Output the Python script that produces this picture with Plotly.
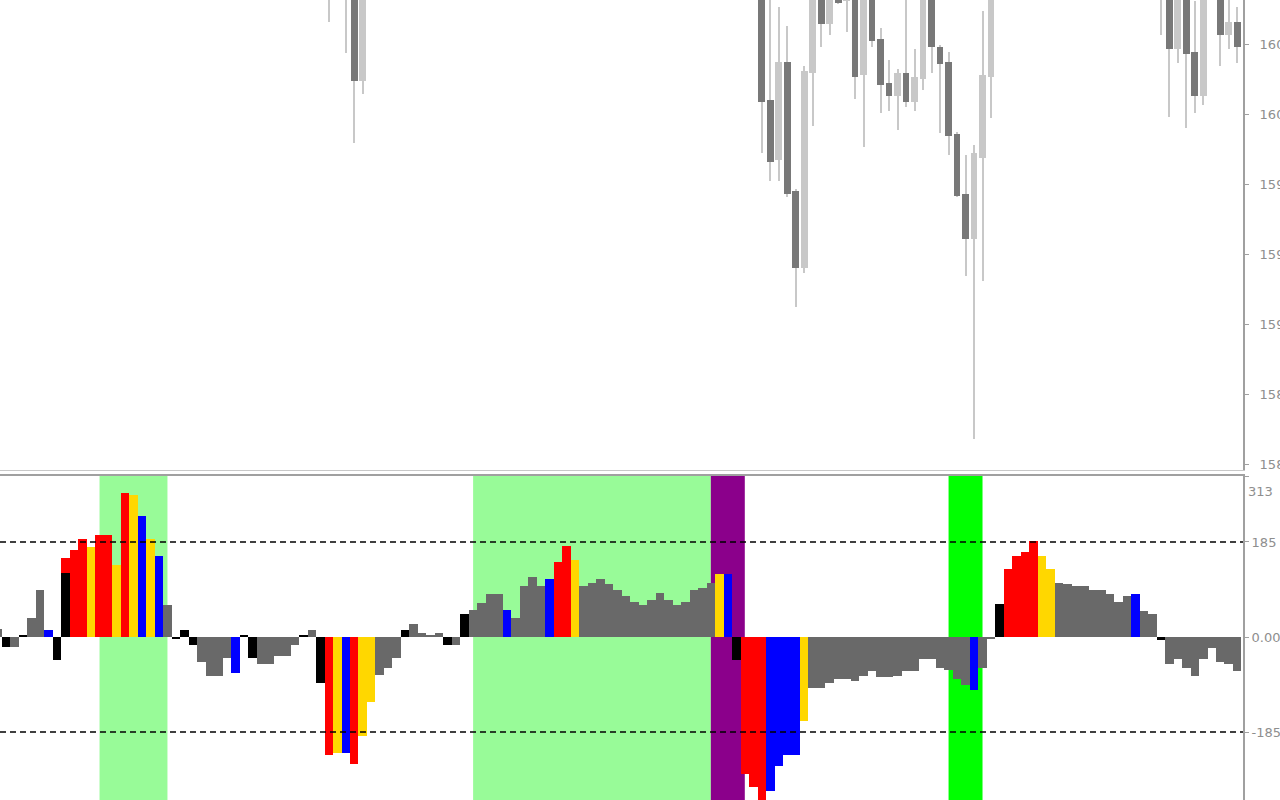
import plotly.graph_objects as go

# ---------------- data ----------------
# bar index (one step per bar; -1 is the partly visible bar at the left edge)
bar_index = list(range(-1, 146))

# oscillator histogram values (k = -1 .. 145)
hist_values = [
    16, -19, -19, 3, 37, 91, 13, -45, 125, 169,
    190, 176, 198, 198, 140, 280, 277, 235, 191, 157,
    62, -3, 13, -16, -49, -75, -75, -41, -70, 3,
    -41, -53, -53, -37, -37, -16, 3, 13, -90, -230,
    -226, -226, -247, -193, -127, -74, -60, -41, 13, 25,
    8, 3, 8, -15, -15, 45, 53, 66, 83, 83,
    53, 37, 99, 116, 99, 112, 146, 177, 149, 99,
    106, 112, 103, 91, 79, 69, 62, 73, 86, 73,
    62, 69, 91, 95, 106, 123, 123, -44, -266, -292,
    -330, -300, -251, -230, -230, -164, -99, -99, -90, -82,
    -82, -86, -75, -67, -78, -78, -75, -67, -67, -42,
    -42, -60, -65, -82, -93, -104, -60, -2, 65, 132,
    157, 165, 186, 157, 132, 106, 103, 99, 99, 91,
    91, 83, 69, 79, 83, 50, 45, -6, -53, -42,
    -60, -75, -42, -21, -49, -52, -67,
]
# state of each histogram bar: G neutral, R strong, Y fading, B reversal, K cross
hist_state = (
    "GKGKGGBKKR"
    "RYRRYRYBYB"
    "GKKKGGGGBK"
    "KGGGGGKGKR"
    "YBRYYGGGKG"
    "GGGKGKGGGG"
    "BGGGGBRRYG"
    "GGGGGGGGGG"
    "GGGGGYBKRR"
    "RBBBBYGGGG"
    "GGGGGGGGGG"
    "GGGGGBGGKR"
    "RRRYYGGGGG"
    "GGGGBGGKGG"
    "GGGGGGG"
)
# second buffer drawn behind the main one
under_index = [7]
under_values = [154]
under_state = ["R"]

# highlighted zones (bar index from / to)
zone_start = [11, 55, 83, 111]
zone_end = [19, 83, 87, 115]
zone_kind = ["trend", "trend", "exit", "signal"]

# indicator levels
levels = [185, -185]

# price candles that reach into the visible price window
candle_index = [38, 40, 41, 42, 89, 90, 91, 92, 93, 94, 95, 96, 97, 98, 99, 100,
                101, 102, 103, 104, 105, 106, 107, 108, 109, 110, 111, 112, 113,
                114, 115, 116, 136, 137, 138, 139, 140, 141, 143, 144, 145]
candle_open = [160.62, 160.55, 160.49, 160.153, 160.53, 160.076, 159.836, 160.228,
               159.713, 159.405, 160.185, 160.55, 160.38, 160.52, 160.472, 160.52,
               160.176, 160.50, 160.32, 160.145, 160.093, 160.185, 160.069, 160.16,
               160.52, 160.289, 160.228, 159.94, 159.70, 159.519, 159.845, 160.169,
               160.55, 160.50, 160.28, 160.50, 160.269, 160.092, 160.52, 160.336,
               160.388]
candle_high = [160.70, 160.58, 160.52, 160.55, 160.58, 160.50, 160.449, 160.372,
               159.72, 160.212, 160.60, 160.60, 160.56, 160.55, 160.55, 160.55,
               160.55, 160.52, 160.363, 160.236, 160.20, 160.50, 160.28, 160.60,
               160.56, 160.296, 160.269, 159.948, 159.856, 159.896, 160.432, 160.55,
               160.60, 160.53, 160.55, 160.53, 160.472, 160.55, 160.55, 160.50,
               160.449]
candle_low = [160.388, 160.264, 159.905, 160.10, 159.865, 159.753, 159.753, 159.687,
              159.247, 159.383, 159.972, 160.289, 160.337, 160.46, 160.349, 160.079,
              159.889, 160.289, 160.025, 160.033, 159.956, 160.049, 160.033, 160.116,
              160.185, 159.943, 159.856, 159.687, 159.372, 158.719, 159.353, 160.003,
              160.336, 160.009, 160.223, 159.965, 160.025, 160.056, 160.213, 160.28,
              160.223]
candle_close = [160.52, 160.49, 160.153, 160.50, 160.069, 159.829, 160.228, 159.70,
                159.405, 160.192, 160.55, 160.38, 160.52, 160.465, 160.52, 160.169,
                160.50, 160.312, 160.136, 160.093, 160.185, 160.069, 160.169, 160.52,
                160.289, 160.22, 159.933, 159.692, 159.519, 159.863, 160.176, 160.50,
                160.50, 160.28, 160.50, 160.26, 160.092, 160.50, 160.336, 160.388,
                160.289]

price_ticks = [160.30, 160.02, 159.74, 159.46, 159.18, 158.90, 158.62]
osc_ticks = [313, 185, 0, -185]
osc_tick_text = ["", "185", "0.00", "-185"]
osc_top_label = "313"

# ---------------- styling ----------------
state_color = {"G": "#696969", "R": "#ff0000", "Y": "#ffd700", "B": "#0000ff", "K": "#000000"}
zone_color = {"trend": "#98fb98", "exit": "#8b008b", "signal": "#00ff00"}
BULL, BEAR, WICK = "#c8c8c8", "#787878", "#c8c8c8"
AXIS = "#a0a0a0"
TICKFONT = dict(family="DejaVu Sans", size=13, color="#8e8e8e")

assert len(hist_values) == len(bar_index) == len(hist_state)

x_range = [-0.7244, 145.68]

fig = go.Figure()

# candles: wicks then bodies
fig.add_trace(go.Bar(
    x=candle_index,
    y=[h - l for h, l in zip(candle_high, candle_low)],
    base=candle_low,
    width=0.24,
    marker=dict(color=WICK, line=dict(width=0)),
    xaxis="x", yaxis="y", hoverinfo="skip",
))
fig.add_trace(go.Bar(
    x=candle_index,
    y=[max(abs(c - o), 0.002) for o, c in zip(candle_open, candle_close)],
    base=[min(o, c) for o, c in zip(candle_open, candle_close)],
    width=0.78,
    marker=dict(color=[BULL if c >= o else BEAR for o, c in zip(candle_open, candle_close)],
                line=dict(width=0)),
    xaxis="x", yaxis="y",
))

# histogram (back buffer, then main)
fig.add_trace(go.Bar(
    x=under_index, y=under_values, width=1,
    marker=dict(color=[state_color[s] for s in under_state], line=dict(width=0)),
    xaxis="x2", yaxis="y2",
))
fig.add_trace(go.Bar(
    x=bar_index, y=hist_values, width=1,
    marker=dict(color=[state_color[s] for s in hist_state], line=dict(width=0)),
    xaxis="x2", yaxis="y2",
))

shapes = []
for a, b, k in zip(zone_start, zone_end, zone_kind):
    shapes.append(dict(type="rect", xref="x2", yref="y2 domain", x0=a, x1=b, y0=0, y1=1,
                       fillcolor=zone_color[k], line=dict(width=0), layer="below"))
for lv in levels:
    shapes.append(dict(type="line", xref="x2 domain", yref="y2", x0=0, x1=1, y0=lv, y1=lv,
                       line=dict(color="#000000", width=1.3, dash="6px,4px"), layer="above"))

fig.update_layout(
    width=1280, height=800,
    margin=dict(l=0, r=37, t=0, b=0, autoexpand=False),
    paper_bgcolor="white", plot_bgcolor="white",
    showlegend=False, barmode="overlay", bargap=0,
    template="none",
    shapes=shapes,
    xaxis=dict(domain=[0, 1], anchor="y", range=x_range, showticklabels=False, ticks="",
               showgrid=False, zeroline=False, showline=True, linecolor="#c8c8c8",
               linewidth=1, automargin=False),
    yaxis=dict(domain=[1 - 470 / 800, 1], anchor="x", side="right",
               range=[158.596, 160.476], tickvals=price_ticks,
               ticktext=[f"{v:.2f}" for v in price_ticks],
               ticks="outside", ticklen=4, tickcolor=AXIS, tickwidth=1,
               showline=True, linecolor=AXIS, linewidth=2, showgrid=False,
               zeroline=False, tickfont=TICKFONT, automargin=False,
               ticklabelstandoff=8),
    xaxis2=dict(domain=[0, 1], anchor="y2", range=x_range, side="top",
                showticklabels=False, ticks="", showgrid=False, zeroline=False,
                showline=True, linecolor=AXIS, linewidth=2, automargin=False),
    yaxis2=dict(domain=[0, 1 - 476 / 800], anchor="x2", side="right",
                range=[-317.4, 313.5], tickvals=osc_ticks, ticktext=osc_tick_text,
                ticks="outside", ticklen=4, tickcolor=AXIS, tickwidth=1,
                showline=True, linecolor=AXIS, linewidth=2, showgrid=False,
                zeroline=False, tickfont=TICKFONT, automargin=False,
                ticklabelstandoff=0),
    annotations=[dict(text=osc_top_label, xref="paper", x=1, xanchor="left", xshift=3,
                      yref="y2", y=284, yanchor="middle", showarrow=False,
                      font=TICKFONT)],
)

fig.write_html("out.html", include_plotlyjs=True,
               config={"displayModeBar": False},
               post_script="document.body.style.margin='0';document.body.style.overflow='hidden';")
